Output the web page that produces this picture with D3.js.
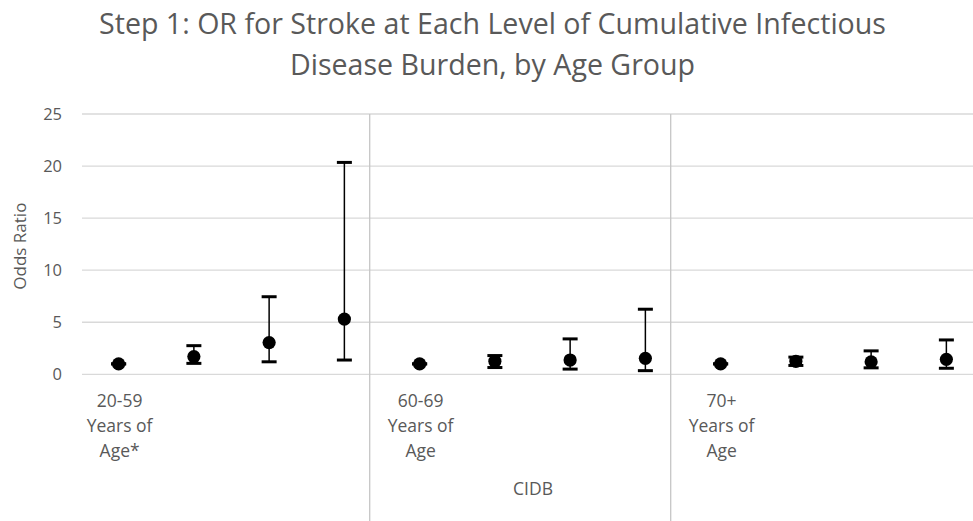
<!DOCTYPE html>
<html>
<head>
<meta charset="utf-8">
<script src="https://cdn.jsdelivr.net/npm/d3@7"></script>
<style>
  html, body { margin: 0; padding: 0; background: #fff; }
  svg { display: block; }
  text { font-family: "Open Sans", "DejaVu Sans", sans-serif; fill: #595959; }
</style>
</head>
<body>
<svg id="chart" width="973" height="521"></svg>
<script>
// ---- data ----
const titleLines = ["Step 1: OR for Stroke at Each Level of Cumulative Infectious", "Disease Burden, by Age Group"];
const ageGroups = ["20-59", "60-69", "70+"];
const groupLabelLines = [["20-59", "Years of", "Age*"], ["60-69", "Years of", "Age"], ["70+", "Years of", "Age"]];
const cidbLevels = ["1", "2", "3", "4"];
const orG1 = [1.0, 1.7, 3.05, 5.3];
const lowG1 = [1.0, 1.05, 1.2, 1.37];
const upG1 = [1.0, 2.75, 7.45, 20.35];
const orG2 = [1.0, 1.25, 1.37, 1.53];
const lowG2 = [1.0, 0.65, 0.5, 0.35];
const upG2 = [1.0, 1.8, 3.4, 6.25];
const orG3 = [1.0, 1.25, 1.2, 1.44];
const lowG3 = [1.0, 0.85, 0.62, 0.58];
const upG3 = [1.0, 1.65, 2.25, 3.3];
const yTicks = [0, 5, 10, 15, 20, 25];
const yTitle = "Odds Ratio";
const xTitle = "CIDB";

// ---- build rows ----
const series = [[orG1, lowG1, upG1], [orG2, lowG2, upG2], [orG3, lowG3, upG3]];
const rows = [];
ageGroups.forEach((g, gi) => {
  cidbLevels.forEach((l, li) => {
    rows.push({ key: g + "|" + l, group: g, gi, li,
      or: series[gi][0][li], lo: series[gi][1][li], hi: series[gi][2][li] });
  });
});

const svg = d3.select("#chart");
const W = 973, H = 521;

const x = d3.scaleBand().domain(rows.map(d => d.key)).range([81, 984]).padding(0);
const y = d3.scaleLinear().domain([0, 25]).range([374.3, 114]);
const cx = d => x(d.key) + x.bandwidth() / 2;

// title
const title = svg.append("g");
titleLines.forEach((t, i) => {
  title.append("text").attr("x", 492.5).attr("y", 34 + i * 41)
    .attr("text-anchor", "middle").style("font-size", "27px").text(t);
});
// fit title width to reference
(function () {
  const first = title.select("text").node();
  const w = first.getComputedTextLength();
  const s = 27 * 787 / w;
  title.selectAll("text").style("font-size", s + "px");
})();

// gridlines
svg.append("g").selectAll("line").data(yTicks).join("line")
  .attr("x1", 82).attr("x2", W)
  .attr("y1", d => y(d)).attr("y2", d => y(d))
  .attr("stroke", "#d9d9d9").attr("stroke-width", 1.3);

// y axis labels
svg.append("g").selectAll("text").data(yTicks).join("text")
  .attr("x", 62).attr("y", d => y(d) + 6)
  .attr("text-anchor", "end").style("font-size", "16.5px").text(d => d);

svg.append("text")
  .attr("transform", `translate(26, ${(y(0) + y(25)) / 2 + 2}) rotate(-90)`)
  .attr("text-anchor", "middle").style("font-size", "17px").text(yTitle);

// group separators
const firsts = rows.filter(d => d.li === 0 && d.gi > 0);
svg.append("g").selectAll("line").data(firsts).join("line")
  .attr("x1", d => x(d.key) - 12.3).attr("x2", d => x(d.key) - 12.3)
  .attr("y1", y(25)).attr("y2", H)
  .attr("stroke", "#c6c6c6").attr("stroke-width", 1.3);

// group labels
const gl = svg.append("g").selectAll("g").data(rows.filter(d => d.li === 0)).join("g");
gl.each(function (d) {
  const g = d3.select(this);
  groupLabelLines[d.gi].forEach((t, i) => {
    g.append("text").attr("x", cx(d) + 1).attr("y", 407 + i * 25)
      .attr("text-anchor", "middle").style("font-size", "17.5px").text(t);
  });
});

// x title
svg.append("text").attr("x", 533).attr("y", 495)
  .attr("text-anchor", "middle").style("font-size", "17.5px").text(xTitle);

// markers
const pts = svg.append("g");
pts.selectAll("circle").data(rows).join("circle")
  .attr("cx", cx).attr("cy", d => y(d.or)).attr("r", 6.6).attr("fill", "#000");

// error bars
const eb = svg.append("g").attr("stroke", "#000");
eb.selectAll("line.stem").data(rows).join("line").attr("class", "stem")
  .attr("x1", cx).attr("x2", cx)
  .attr("y1", d => y(d.lo)).attr("y2", d => y(d.hi)).attr("stroke-width", 1.5);
eb.selectAll("line.capHi").data(rows).join("line").attr("class", "capHi")
  .attr("x1", d => cx(d) - 7.5).attr("x2", d => cx(d) + 7.5)
  .attr("y1", d => y(d.hi)).attr("y2", d => y(d.hi)).attr("stroke-width", 3);
eb.selectAll("line.capLo").data(rows).join("line").attr("class", "capLo")
  .attr("x1", d => cx(d) - 7.5).attr("x2", d => cx(d) + 7.5)
  .attr("y1", d => y(d.lo)).attr("y2", d => y(d.lo)).attr("stroke-width", 3);
</script>
</body>
</html>
